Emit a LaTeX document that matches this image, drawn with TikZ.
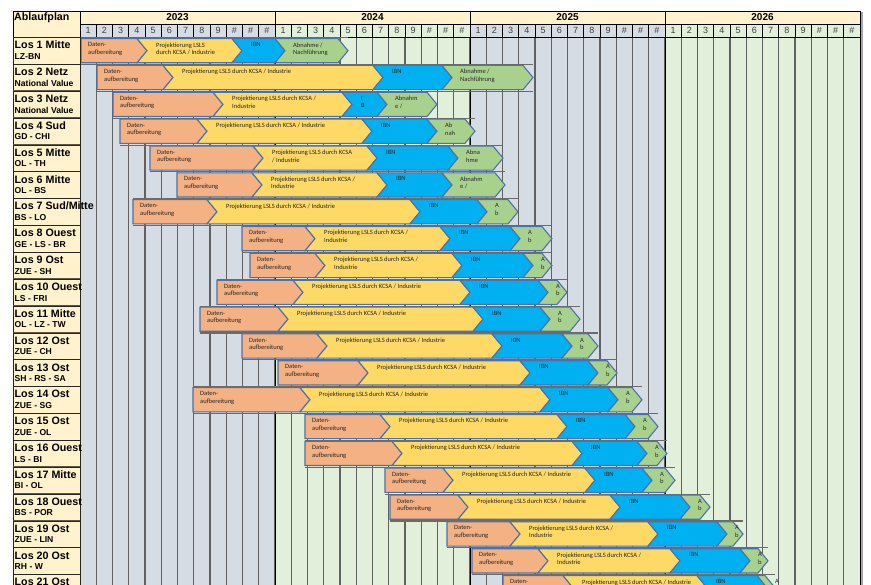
\documentclass[tikz,border=0pt]{standalone}
\usepackage{fontspec}
\setmainfont{Liberation Sans}
\newfontfamily\barfont{Carlito}

\definecolor{labfill}{HTML}{FFF2CC}
\definecolor{colA}{HTML}{D6DCE4}
\definecolor{colB}{HTML}{E2EFDA}
\definecolor{orangefill}{HTML}{F4B183}
\definecolor{yellowfill}{HTML}{FFD966}
\definecolor{bluefill}{HTML}{00B0F0}
\definecolor{greenfill}{HTML}{A9D18E}
\definecolor{barline}{HTML}{4E71A8}
\definecolor{labrulecol}{HTML}{5E5646}

\tikzset{
  barbase/.style={draw=barline, line width=1.1pt, line join=miter},
  barorange/.style={barbase, fill=orangefill},
  baryellow/.style={barbase, fill=yellowfill},
  barblue/.style={barbase, fill=bluefill},
  bargreen/.style={barbase, fill=greenfill},
  bartext/.style={font=\barfont\fontsize{6.5}{7.6}\selectfont, text=black!85,
    anchor=north west, inner sep=0pt, align=left},
  rowsep/.style={draw=black!58, line width=1.1pt},
  gridline/.style={draw=black!62, line width=1.3pt},
  yearline/.style={draw=black, line width=1pt},
  headcell/.style={draw=black, line width=0.9pt},
  labbox/.style={fill=labfill, draw=black!85, line width=0.9pt},
  labrule/.style={draw=labrulecol, line width=1.8pt},
  labmain/.style={font=\bfseries\fontsize{10.7}{12}\selectfont, anchor=base west, inner sep=0pt},
  labsub/.style={font=\bfseries\fontsize{8.6}{10}\selectfont, anchor=base west, inner sep=0pt},
  yeartext/.style={font=\bfseries\fontsize{10}{12}\selectfont, anchor=base, inner sep=0pt},
  monthtext/.style={font=\fontsize{9}{10}\selectfont, text=black!75, anchor=base, inner sep=0pt},
}

% one lot: row index, start, ends of data prep / planning / commissioning / acceptance,
% then the texts of the planning, commissioning and acceptance phases
\newcommand{\losrow}[9]{%
  \pgfmathsetmacro{\rowT}{37.7+(#1-1)*26.85}%
  \pgfmathsetmacro{\rowU}{\rowT+26.85}%
  \pgfmathsetmacro{\barT}{\rowT+0.9}%
  \pgfmathsetmacro{\barB}{\rowT+25.1}%
  \pgfmathsetmacro{\barM}{(\barT+\barB)/2}%
  \pgfmathsetmacro{\txtT}{\rowT+4.6}%
  \draw[rowsep] (#2,\rowT) -- (#6+10,\rowT) (#2,\rowU) -- (#6+10,\rowU);
  \draw[barorange] (#2,\barT) -- (#3,\barT) -- (#3+10,\barM) -- (#3,\barB) -- (#2,\barB) -- cycle;
  \draw[baryellow] (#3,\barT) -- (#4,\barT) -- (#4+10,\barM) -- (#4,\barB) -- (#3,\barB) -- (#3+10,\barM) -- cycle;
  \draw[barblue] (#4,\barT) -- (#5,\barT) -- (#5+10,\barM) -- (#5,\barB) -- (#4,\barB) -- (#4+10,\barM) -- cycle;
  \draw[bargreen] (#5,\barT) -- (#6,\barT) -- (#6+10,\barM) -- (#6,\barB) -- (#5,\barB) -- (#5+10,\barM) -- cycle;
  \node[bartext] (o#1) at (#2+7,\txtT) {Daten-\\aufbereitung};
  \node[bartext] (y#1) at (#3+19,\txtT) {#7};
  \node[bartext] (b#1) at (#4+19,\txtT) {#8};
  \node[bartext] (g#1) at (#5+18,\txtT) {#9};
}

% one label cell of the left column
\newcommand{\loslabel}[3]{%
  \pgfmathsetmacro{\labT}{37.7+(#1-1)*26.85}%
  \pgfmathsetmacro{\labB}{\labT+26.85}%
  \draw[labbox] (13,\labT) rectangle (80,\labB);
  \draw[labrule] (13,\labB) -- (80,\labB);
  \node[labmain] (lm#1) at (14.5,\labT+11.2) {#2};
  \node[labsub] (ls#1) at (14.5,\labT+21.7) {#3};
}

\begin{document}
\begin{tikzpicture}[x=1pt,y=-1pt]
\useasboundingbox (0,0) rectangle (871,585);
\clip (0,0) rectangle (871,585);
\fill[white] (0,0) rectangle (871,585);

% column backgrounds per year
\fill[colA] (80,37) rectangle (275,585);
\fill[colB] (275,37) rectangle (470,585);
\fill[colA] (470,37) rectangle (665,585);
\fill[colB] (665,37) rectangle (860,585);

% month lines
\foreach \m in {1,...,47} {
  \draw[gridline] (80+\m*16.25,37) -- (80+\m*16.25,585);
}
\foreach \xx in {80,275,470,665,860} {
  \draw[yearline] (\xx,37) -- (\xx,585);
}
\draw[draw=black!35, line width=1.6pt] (862,12) -- (862,585);

% header: title, years, months
\draw[labbox, draw=black] (13,11) rectangle (80,37);
\node[labmain] (title) at (14,20.7) {Ablaufplan};
\foreach \k/\yr in {0/2023,1/2024,2/2025,3/2026} {
  \draw[headcell, fill=labfill] (80+\k*195,11) rectangle (275+\k*195,24);
  \node[yeartext] (yr\yr) at (177.5+\k*195,20.7) {\yr};
}
\foreach \m in {0,...,47} {
  \pgfmathtruncatemacro{\mon}{mod(\m,12)+1}
  \pgfmathtruncatemacro{\yy}{div(\m,12)}
  \ifodd\yy\def\mfill{colB}\else\def\mfill{colA}\fi
  \draw[headcell, fill=\mfill] (80+\m*16.25,24) rectangle (96.25+\m*16.25,37);
  \node[monthtext] (mo\m) at (88.125+\m*16.25,34) {\ifnum\mon>9 \#\else\mon\fi};
}

% lots
\losrow{1}{81}{137}{232}{275}{338}{Projektierung LSLS\\durch KCSA / Industrie}{IBN}{Abnahme /\\Nachführung}
\losrow{2}{97}{163}{373}{442}{523}{Projektierung LSLS durch KCSA / Industrie}{IBN}{Abnahme /\\Nachführung}
\losrow{3}{113}{213}{342}{377}{427}{Projektierung LSLS durch KCSA /\\Industrie}{I\\B}{Abnahm\\e /}
\losrow{4}{120}{197}{362}{427}{465}{Projektierung LSLS durch KCSA / Industrie}{IBN}{Ab\\nah}
\losrow{5}{150}{253}{367}{448}{493}{Projektierung LSLS durch KCSA\\/ Industrie}{IBN}{Abna\\hme}
\losrow{6}{177}{252}{377}{442}{495}{Projektierung LSLS durch KCSA /\\Industrie}{IBN}{Abnahm\\e /}
\losrow{7}{133}{207}{410}{477}{508}{Projektierung LSLS durch KCSA / Industrie}{IBN}{A\\b}
\losrow{8}{242}{305}{440}{510}{542}{Projektierung LSLS durch KCSA /\\Industrie}{IBN}{A\\b}
\losrow{9}{250}{315}{452}{523}{542}{Projektierung LSLS durch KCSA /\\Industrie}{IBN}{A\\b}
\losrow{10}{217}{293}{460}{538}{557}{Projektierung LSLS durch KCSA / Industrie}{IBN}{A\\b}
\losrow{11}{200}{278}{473}{540}{570}{Projektierung LSLS durch KCSA / Industrie}{IBN}{A\\b}
\losrow{12}{242}{317}{492}{562}{588}{Projektierung LSLS durch KCSA / Industrie}{IBN}{A\\b}
\losrow{13}{278}{358}{520}{588}{607}{Projektierung LSLS durch KCSA / Industrie}{IBN}{A\\b}
\losrow{14}{193}{300}{540}{608}{632}{Projektierung LSLS durch KCSA / Industrie}{IBN}{A\\b}
\losrow{15}{305}{380}{557}{625}{648}{Projektierung LSLS durch KCSA / Industrie}{IBN}{A\\b}
\losrow{16}{305}{392}{572}{637}{657}{Projektierung LSLS durch KCSA / Industrie}{IBN}{A\\b}
\losrow{17}{385}{443}{585}{642}{665}{Projektierung LSLS durch KCSA / Industrie}{IBN}{A\\b}
\losrow{18}{390}{458}{610}{680}{700}{Projektierung LSLS durch KCSA / Industrie}{IBN}{A\\b}
\losrow{19}{447}{510}{648}{717}{733}{Projektierung LSLS durch KCSA /\\Industrie}{IBN}{A\\b}
\losrow{20}{472}{538}{670}{740}{758}{Projektierung LSLS durch KCSA /\\Industrie}{IBN}{A\\b}
\losrow{21}{503}{563}{697}{757}{765}{Projektierung LSLS durch KCSA / Industrie}{IBN}{A\\b}

% label column
\loslabel{1}{Los 1 Mitte}{LZ-BN}
\loslabel{2}{Los 2 Netz}{National Value}
\loslabel{3}{Los 3 Netz}{National Value}
\loslabel{4}{Los 4 Sud}{GD - CHI}
\loslabel{5}{Los 5 Mitte}{OL - TH}
\loslabel{6}{Los 6 Mitte}{OL - BS}
\loslabel{7}{Los 7 Sud/Mitte}{BS - LO}
\loslabel{8}{Los 8 Ouest}{GE - LS - BR}
\loslabel{9}{Los 9 Ost}{ZUE - SH}
\loslabel{10}{Los 10 Ouest}{LS - FRI}
\loslabel{11}{Los 11 Mitte}{OL - LZ - TW}
\loslabel{12}{Los 12 Ost}{ZUE - CH}
\loslabel{13}{Los 13 Ost}{SH - RS - SA}
\loslabel{14}{Los 14 Ost}{ZUE - SG}
\loslabel{15}{Los 15 Ost}{ZUE - OL}
\loslabel{16}{Los 16 Ouest}{LS - BI}
\loslabel{17}{Los 17 Mitte}{BI - OL}
\loslabel{18}{Los 18 Ouest}{BS - POR}
\loslabel{19}{Los 19 Ost}{ZUE - LIN}
\loslabel{20}{Los 20 Ost}{RH - W}
\loslabel{21}{Los 21 Ost}{}
\end{tikzpicture}
\end{document}
